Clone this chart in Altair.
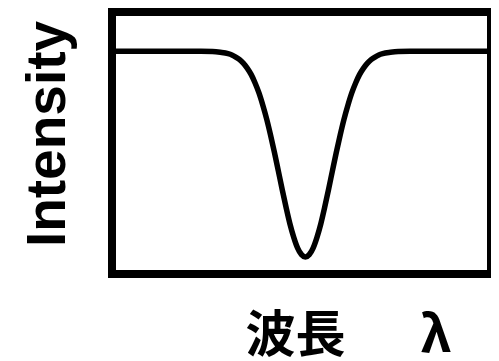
import altair as alt
import pandas as pd

# wavelength (arbitrary units) and intensity
wavelength = [0, 23, 26, 28, 30, 31, 32, 33, 34, 35, 36, 37, 38, 39, 40, 41, 42, 43, 44, 45,
              46, 47, 48, 49, 50, 51, 52, 53, 54, 55, 56, 57, 58, 59, 60, 61, 62, 63, 64,
              65, 66, 67, 68, 69, 70, 72, 74, 77, 100]
intensity = [0.85, 0.85, 0.849, 0.846, 0.841, 0.836, 0.828, 0.818, 0.804, 0.785, 0.761, 0.729,
             0.691, 0.644, 0.591, 0.530, 0.464, 0.394, 0.323, 0.255, 0.192, 0.140, 0.099, 0.074,
             0.065,
             0.074, 0.099, 0.140, 0.192, 0.255, 0.323, 0.394, 0.464, 0.530, 0.591, 0.644, 0.691,
             0.729, 0.761, 0.785, 0.804, 0.818, 0.828, 0.836, 0.841, 0.846, 0.849, 0.85, 0.85]

x_title = "波長\u3000\u2002λ"
y_title = "Intensity"

df = pd.DataFrame({"w": wavelength, "i": intensity})

chart = (
    alt.Chart(df)
    .mark_line(color="black", strokeWidth=5.5, interpolate="monotone", strokeCap="round", clip=True)
    .encode(
        x=alt.X("w:Q", scale=alt.Scale(domain=[0, 98], nice=False, zero=False),
                axis=alt.Axis(title=x_title, ticks=False, labels=False, domain=False, grid=False,
                              titleFont="Noto Sans CJK JP", titleFontSize=50, titleFontWeight="bold",
                              titleColor="black", titleAlign="left", titleBaseline="alphabetic",
                              titleX=133, titleY=77)),
        y=alt.Y("i:Q", scale=alt.Scale(domain=[0, 1], nice=False),
                axis=alt.Axis(title=y_title, ticks=False, labels=False, domain=False, grid=False,
                              titleFont="Liberation Sans", titleFontSize=55, titleFontWeight="bold",
                              titleColor="black", titleAngle=270, titleAlign="center",
                              titleBaseline="alphabetic", titleX=-48, titleY=121.5)),
    )
    .properties(width=379, height=262, autosize=alt.AutoSizeParams(type="none"),
                padding={"left": 104, "top": 4, "right": 0, "bottom": 95},
                background="white")
    .configure_view(stroke="black", strokeWidth=8)
)

chart.save("out.html", embed_options={"renderer": "svg", "actions": False})
